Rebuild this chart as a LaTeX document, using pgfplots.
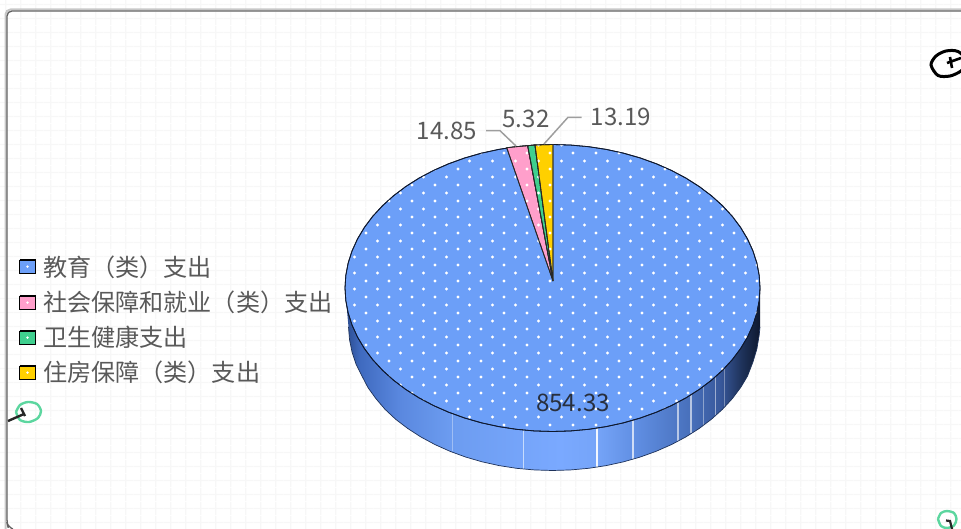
\documentclass[border=0pt]{standalone}
\usepackage{fontspec}
\setmainfont{Noto Sans CJK SC}
\usepackage{pgfplots}
\pgfplotsset{compat=1.18}
\usetikzlibrary{patterns}
\definecolor{pieblue}{HTML}{6C9FF8}
\definecolor{piepink}{HTML}{FF9FCB}
\definecolor{piegreen}{HTML}{3FCF8E}
\definecolor{pieyellow}{HTML}{FFD000}
\definecolor{txt}{HTML}{595959}
\definecolor{gridc}{HTML}{F7F7F7}
\definecolor{wa}{RGB}{42,74,140}
\definecolor{wb}{RGB}{63,106,191}
\definecolor{wc}{RGB}{90,136,223}
\definecolor{wd}{RGB}{108,156,240}
\definecolor{we}{RGB}{122,169,255}
\definecolor{wf}{RGB}{117,164,248}
\definecolor{wg}{RGB}{94,140,224}
\definecolor{wh}{RGB}{72,112,187}
\definecolor{wi}{RGB}{56,88,155}
\definecolor{wj}{RGB}{30,50,90}
\definecolor{wk}{RGB}{14,24,46}
\tikzset{lab/.style={inner sep=0pt,font=\fontsize{24.1}{28}\selectfont,text=txt}}
\pgfdeclarepatternformonly{piedots}{\pgfqpoint{-2pt}{-2pt}}{\pgfqpoint{25pt}{18.5pt}}{\pgfqpoint{23pt}{16pt}}{%
  \pgfpathcircle{\pgfqpoint{21pt}{8pt}}{1.6pt}%
  \pgfpathcircle{\pgfqpoint{9.5pt}{0pt}}{1.6pt}%
  \pgfusepath{fill}}
\pgfdeclarepatternformonly{bggrid}{\pgfqpoint{0pt}{0pt}}{\pgfqpoint{15.3pt}{14pt}}{\pgfqpoint{15.3pt}{14pt}}{%
  \pgfsetlinewidth{1.2pt}%
  \pgfpathmoveto{\pgfqpoint{7pt}{0pt}}\pgfpathlineto{\pgfqpoint{7pt}{14pt}}%
  \pgfpathmoveto{\pgfqpoint{0pt}{7pt}}\pgfpathlineto{\pgfqpoint{15.3pt}{7pt}}%
  \pgfusepath{stroke}}
\pgfdeclarehorizontalshading{wall}{100bp}{%
  color(0bp)=(wa);
  color(25bp)=(wa);
  color(26.8bp)=(wb);
  color(31.6bp)=(wc);
  color(37.7bp)=(wd);
  color(50.9bp)=(we);
  color(55.4bp)=(wf);
  color(60.5bp)=(wg);
  color(66.6bp)=(wh);
  color(70.2bp)=(wi);
  color(72.8bp)=(wj);
  color(75bp)=(wk);
  color(100bp)=(wk)}
\begin{document}
\begin{tikzpicture}
\begin{axis}[width=961pt,height=529pt,scale only axis,xmin=0,xmax=961,ymin=0,ymax=529,y dir=reverse,hide axis]
% background
\addplot[draw=none,pattern=bggrid,pattern color=gridc] coordinates {(0,0)(961,0)(961,529)(0,529)(0,0)};
% frame
\addplot[draw=black!22,line width=2pt,rounded corners=5pt] coordinates {(961,9.5)(5.5,9.5)(5.5,529)};
\addplot[draw=black!62,line width=1.3pt,rounded corners=5pt] coordinates {(961,11)(7,11)(7,523)(8,527)(13,529)};
% side wall
\addplot[draw=none,shade,shading=wall] coordinates {(760,288)(760,327)(759.21,335)(756.85,349)(752.93,362)(747.49,376.08)(740.56,387.65)(732.2,398.75)(722.47,409.31)(711.45,419.24)(699.22,428.47)(685.88,436.93)(671.52,444.55)(656.25,451.27)(640.19,457.06)(623.47,461.85)(606.2,465.61)(588.53,468.32)(570.59,469.95)(552.5,470.5)(534.41,469.95)(516.6,468.32)(499.2,465.61)(482.2,461.85)(465.7,457.06)(449.9,451.27)(434.9,444.55)(420.8,436.93)(407.7,428.47)(395.6,419.24)(385,409.31)(376,398.75)(368,387.65)(362,376.08)(356,364.14)(352,351.92)(349.5,339.51)(348.5,327)(345,288)(760,288)};
% wall highlights
\addplot[draw=white,opacity=.35,line width=.8pt] coordinates {(452,413.5)(452,450.5)};
\addplot[draw=white,opacity=.6,line width=1pt] coordinates {(523,430)(523,469)};
\addplot[draw=white,opacity=.9,line width=1.6pt] coordinates {(597,428)(597,467)};
\addplot[draw=white,opacity=.7,line width=1.4pt] coordinates {(633,420)(633,459)};
\addplot[draw=white,opacity=.6,line width=1.2pt] coordinates {(678,402)(678,441)};
\addplot[draw=white,opacity=.6,line width=1.2pt] coordinates {(691,395)(691,433)};
\addplot[draw=white,opacity=.4,line width=1pt] coordinates {(703,387)(703,426)};
\addplot[draw=white,opacity=.5,line width=1pt] coordinates {(715,377)(715,416)};
\addplot[draw=white,opacity=.35,line width=1pt] coordinates {(724,369)(724,408)};
% wall outline at the bottom
\addplot[draw=wj,line width=.7pt] coordinates {(760,327)(759.21,335)(756.85,349)(752.93,362)(747.49,376.08)(740.56,387.65)(732.2,398.75)(722.47,409.31)(711.45,419.24)(699.22,428.47)(685.88,436.93)(671.52,444.55)(656.25,451.27)(640.19,457.06)(623.47,461.85)(606.2,465.61)(588.53,468.32)(570.59,469.95)(552.5,470.5)(534.41,469.95)(516.6,468.32)(499.2,465.61)(482.2,461.85)(465.7,457.06)(449.9,451.27)(434.9,444.55)(420.8,436.93)(407.7,428.47)(395.6,419.24)(385,409.31)(376,398.75)(368,387.65)(362,376.08)(356,364.14)(352,351.92)(349.5,339.51)(348.5,327)};
% top face, 854.33
\addplot[draw=wk,line width=.8pt,fill=pieblue,postaction={pattern=piedots,pattern color=white}] coordinates {(552.5,144.5)(570.59,145.05)(588.53,146.68)(606.2,149.39)(623.47,153.15)(640.19,157.94)(656.25,163.73)(671.52,170.45)(685.88,178.07)(699.22,186.53)(711.45,195.76)(722.47,205.69)(732.2,216.25)(740.56,227.35)(747.49,238.92)(752.93,250.86)(756.85,263.08)(759.21,275.49)(760,288)(759.21,300.51)(756.85,312.92)(752.93,325.14)(747.49,337.08)(740.56,348.65)(732.2,359.75)(722.47,370.31)(711.45,380.24)(699.22,389.47)(685.88,397.93)(671.52,405.55)(656.25,412.27)(640.19,418.06)(623.47,422.85)(606.2,426.61)(588.53,429.32)(570.59,430.95)(552.5,431.5)(534.41,430.95)(516.47,429.32)(498.8,426.61)(481.53,422.85)(464.81,418.06)(448.75,412.27)(433.48,405.55)(419.12,397.93)(405.78,389.47)(393.55,380.24)(382.53,370.31)(372.8,359.75)(364.44,348.65)(357.51,337.08)(352.07,325.14)(348.15,312.92)(345.79,300.51)(345,288)(345.79,275.49)(348.15,263.08)(352.07,250.86)(357.51,238.92)(364.44,227.35)(372.8,216.25)(382.53,205.69)(393.55,195.76)(405.78,186.53)(419.12,178.07)(433.48,170.45)(448.75,163.73)(464.81,157.94)(481.53,153.15)(498.8,149.39)(516.47,146.68)(534.41,145.05)(552.5,144.5)};
% small slices
\addplot[draw=black!85,line width=.8pt,fill=piepink,postaction={pattern=piedots,pattern color=white}] coordinates {(553,281)(506.7,147.7)(516.47,146.68)(527.7,145.7)(553,281)};
\addplot[draw=black!85,line width=.8pt,fill=piegreen,postaction={pattern=piedots,pattern color=white}] coordinates {(553,281)(527.7,145.7)(535,145.05)(553,281)};
\addplot[draw=black!85,line width=.8pt,fill=pieyellow,postaction={pattern=piedots,pattern color=white}] coordinates {(553,281)(535,145.05)(553,144.5)(553,281)};
% leader lines
\addplot[draw=black!38,line width=1.5pt] coordinates {(486,130.7)(500,130.7)(516,146)};
\addplot[draw=black!38,line width=1.5pt] coordinates {(581.7,117.3)(568,117.3)(544,144)};
% data labels
\node[lab] at (axis cs:447,131) {14.85};
\node[lab] at (axis cs:526,119) {5.32};
\node[lab] at (axis cs:621,117) {13.19};
\node[lab,text=wk!65!txt] at (axis cs:573,403) {854.33};
% legend
\addplot[draw=black,line width=1.4pt,fill=pieblue] coordinates {(19.5,260)(35.5,260)(35.5,273.5)(19.5,273.5)(19.5,260)};
\addplot[draw=black,line width=1.4pt,fill=piepink] coordinates {(19.5,296)(35.5,296)(35.5,309.5)(19.5,309.5)(19.5,296)};
\addplot[draw=black,line width=1.4pt,fill=piegreen] coordinates {(19.5,331)(35.5,331)(35.5,344.5)(19.5,344.5)(19.5,331)};
\addplot[draw=black,line width=1.4pt,fill=pieyellow] coordinates {(19.5,366)(35.5,366)(35.5,379.5)(19.5,379.5)(19.5,366)};
\addplot[only marks,mark=*,mark size=1pt,mark options={draw=white,fill=white}] coordinates {(27.5,266.7)(27.5,302.7)(27.5,337.7)(27.5,372.7)};
\node[lab,anchor=west] at (axis cs:43,267) {教育（类）支出};
\node[lab,anchor=west] at (axis cs:43,302) {社会保障和就业（类）支出};
\node[lab,anchor=west] at (axis cs:43,337) {卫生健康支出};
\node[lab,anchor=west] at (axis cs:43,372) {住房保障（类）支出};
% hand-drawn marks
\addplot[draw=black,line width=3pt,smooth] coordinates {(970,62)(958,51.5)(946,51)(936,56)(931,65)(938,75.5)(950,76)(961,71)(970,62)};
\addplot[draw=black,line width=2.6pt] coordinates {(947,63)(961,58)};
\addplot[draw=black,line width=2.6pt] coordinates {(950,57)(952,68)};
\addplot[draw=piegreen!85!white,line width=2.4pt,smooth] coordinates {(16,412)(20,405)(28,402)(37,404)(41,411)(38,418)(29,422)(20,420)(16,412)};
\addplot[draw=black!85,line width=2.4pt] coordinates {(8,421)(24,414)};
\addplot[draw=black!85,line width=2.4pt] coordinates {(21,408)(25,416)};
\addplot[draw=piegreen!85!white,line width=2.4pt,smooth] coordinates {(938,519)(941,513)(947,511)(954,513)(956.5,519)(954,525.5)(947,528)(941,526)(938,519)};
\addplot[draw=black!85,line width=2.2pt] coordinates {(946,520.5)(950,521)(952,529)};
\end{axis}
\end{tikzpicture}
\end{document}
